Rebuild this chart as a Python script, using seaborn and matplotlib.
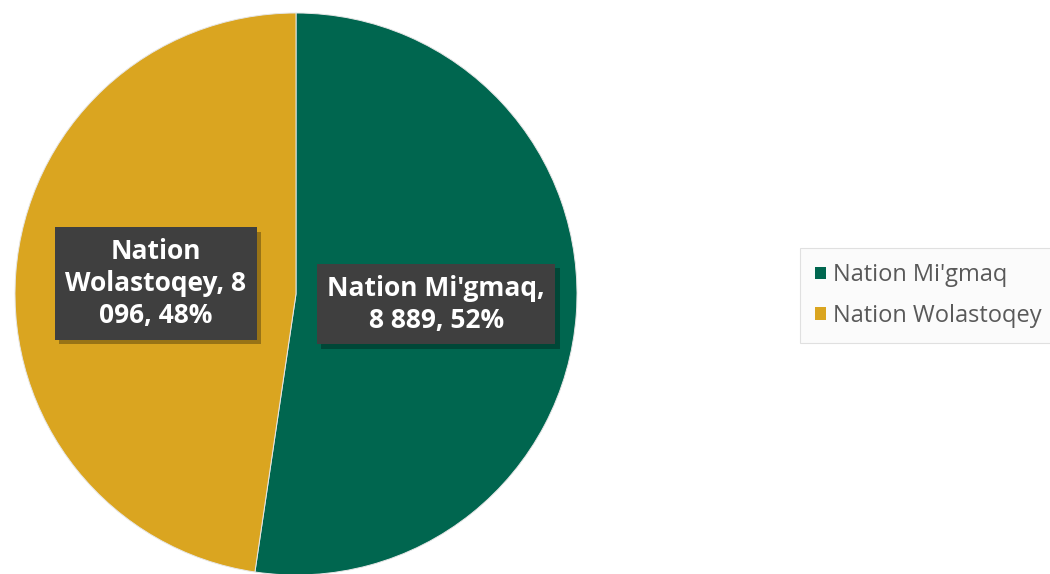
import numpy as np
import matplotlib
matplotlib.use("Agg")
import matplotlib.pyplot as plt
import matplotlib.patheffects as pe
from matplotlib.patches import Patch
import seaborn as sns

categories = ["Nation Mi'gmaq", "Nation Wolastoqey"]
values = [8889, 8096]
label_texts = ["Nation Mi'gmaq,\n8 889, 52%", "Nation\nWolastoqey, 8\n096, 48%"]
colors = ["#00664F", "#DAA520"]

sns.set_theme(style="white")
plt.rcParams['font.family'] = ['Open Sans', 'DejaVu Sans']

fig = plt.figure(figsize=(10.5, 5.74), dpi=100)
fig.patch.set_facecolor("white")
W, H = 1050, 574
cx, cy, r = 296, 294, 281
ax = fig.add_axes([(cx - r) / W, (H - cy - r) / H, 2 * r / W, 2 * r / H])

wedges, _ = ax.pie(values, colors=colors, startangle=90, counterclock=False,
                   radius=1, wedgeprops=dict(edgecolor="#e6e6e6", linewidth=0.7))
ax.set_xlim(-1, 1)
ax.set_ylim(-1, 1)
ax.set_aspect("equal")
ax.axis("off")

for w, txt in zip(wedges, label_texts):
    ang = np.deg2rad((w.theta1 + w.theta2) / 2)
    x, y = 0.5 * np.cos(ang), 0.5 * np.sin(ang)
    t = ax.text(x, y, txt, ha="center", va="center", color="white",
                fontsize=19, fontweight="bold", linespacing=1.25,
                bbox=dict(boxstyle="square,pad=0.4", facecolor="#3f3f3f",
                          edgecolor="none"))
    t.get_bbox_patch().set_path_effects(
        [pe.withSimplePatchShadow(offset=(3, -3), shadow_rgbFace="black", alpha=0.3),
         pe.Normal()])

handles = [Patch(facecolor=c, edgecolor="none") for c in colors]
leg = fig.legend(handles, categories, loc="upper left",
                 bbox_to_anchor=(800 / W, 1 - 248 / H), frameon=True,
                 fontsize=17, handlelength=0.45, handleheight=0.45,
                 handletextpad=0.3, labelspacing=0.7, borderpad=0.65,
                 borderaxespad=0, fancybox=False)
leg.get_frame().set_edgecolor("#d9d9d9")
leg.get_frame().set_facecolor("#fafafa")
leg.get_frame().set_linewidth(0.8)
for t in leg.get_texts():
    t.set_color("#595959")

fig.savefig("out.png", dpi=100)
